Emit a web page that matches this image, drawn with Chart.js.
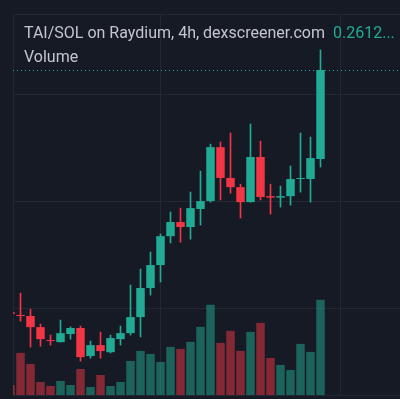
<!DOCTYPE html>
<html>
<head>
<meta charset="utf-8">
<script src="https://cdn.jsdelivr.net/npm/chart.js@4.4.1/dist/chart.umd.min.js"></script>
<style>
  html, body { margin: 0; padding: 0; background: #161a25; }
  #wrap { position: relative; width: 400px; height: 399px; }
  #legend { position: absolute; left: 24px; top: 21px; font-family: Roboto, sans-serif; font-size: 16px; line-height: 24px; color: #c3c6ce; white-space: nowrap; }
  #legend .val { position: absolute; left: 309px; top: 0; color: #22ab94; }
</style>
</head>
<body>
<div id="wrap">
  <canvas id="grafico" width="400" height="399"></canvas>
  <div id="legend">
    <div>TAI/SOL on Raydium, 4h, dexscreener.com<span class="val">0.2612...</span></div>
    <div>Volume</div>
  </div>
</div>
<script>
// candles (SOL per TAI), 4h each
const opens  = [0.1481, 0.1467, 0.1463, 0.1411, 0.1350, 0.1341, 0.1379, 0.1407, 0.1276, 0.1327, 0.1294, 0.1355, 0.1383, 0.1458, 0.1594, 0.1701,
                0.1836, 0.1902, 0.1879, 0.1963, 0.2000, 0.2252, 0.2108, 0.2065, 0.1995, 0.2206, 0.2023, 0.2016, 0.2023, 0.2103, 0.2103, 0.2196];
const highs  = [0.1500, 0.1570, 0.1495, 0.1425, 0.1374, 0.1444, 0.1412, 0.1416, 0.1346, 0.1388, 0.1374, 0.1416, 0.1608, 0.1682, 0.1762, 0.1846,
                0.1949, 0.1967, 0.2042, 0.2140, 0.2266, 0.2276, 0.2318, 0.2079, 0.2360, 0.2280, 0.2079, 0.2070, 0.2164, 0.2318, 0.2299, 0.2706];
const lows   = [0.1453, 0.1439, 0.1318, 0.1322, 0.1327, 0.1341, 0.1355, 0.1252, 0.1266, 0.1266, 0.1290, 0.1327, 0.1374, 0.1365, 0.1561, 0.1622,
                0.1804, 0.1808, 0.1822, 0.1888, 0.1995, 0.2005, 0.2037, 0.1921, 0.1995, 0.2005, 0.1939, 0.1972, 0.1981, 0.2042, 0.1995, 0.2159];
const closes = [0.1472, 0.1463, 0.1411, 0.1355, 0.1346, 0.1383, 0.1407, 0.1271, 0.1327, 0.1299, 0.1360, 0.1383, 0.1458, 0.1594, 0.1701, 0.1836,
                0.1902, 0.1879, 0.1967, 0.2000, 0.2252, 0.2108, 0.2065, 0.1995, 0.2206, 0.2019, 0.2016, 0.2023, 0.2103, 0.2108, 0.2201, 0.2612];
const volumes = [10, 42, 31, 13, 9, 14, 10, 26, 8, 20, 9, 13, 34, 44, 41, 33,
                 48, 46, 53, 68, 90, 52, 64, 44, 63, 72, 37, 30, 25, 51, 43, 95];
const priceGrid = [0.15, 0.20, 0.25];
const timeGrid = [15, 33];

const UP = '#22ab94';
const DOWN = '#f23645';
const GRID = '#232733';

const idx = closes.map((_, i) => i);
const candleColor = i => closes[i] >= opens[i] ? UP : DOWN;
const volColor = i => closes[i] >= opens[i] ? 'rgba(34,171,148,0.5)' : 'rgba(242,54,69,0.5)';

// pane frame + dotted last price line
const paneDeco = {
    id: 'paneDeco',
    beforeDatasetsDraw(chart) {
        const { ctx, chartArea: a, scales } = chart;
        ctx.save();
        ctx.strokeStyle = GRID;
        ctx.lineWidth = 1;
        ctx.beginPath();
        ctx.moveTo(a.left + 0.5, a.bottom);
        ctx.lineTo(a.left + 0.5, a.top + 0.5);
        ctx.lineTo(a.right, a.top + 0.5);
        ctx.moveTo(a.left, a.bottom + 0.5);
        ctx.lineTo(a.right, a.bottom + 0.5);
        ctx.stroke();

        const y = Math.round(scales.y.getPixelForValue(closes[closes.length - 1])) + 0.5;
        ctx.strokeStyle = UP;
        ctx.setLineDash([1, 3]);
        ctx.beginPath();
        ctx.moveTo(a.left, y);
        ctx.lineTo(a.right, y);
        ctx.stroke();
        ctx.restore();
    }
};

new Chart(document.getElementById('grafico'), {
    type: 'bar',
    data: {
        datasets: [
            {
                label: 'body',
                data: idx.map(i => ({ x: i, y: [opens[i], closes[i]] })),
                backgroundColor: idx.map(candleColor),
                barPercentage: 0.85,
                categoryPercentage: 1,
                minBarLength: 1,
                grouped: false,
                order: 0,
                yAxisID: 'y'
            },
            {
                label: 'wick',
                data: idx.map(i => ({ x: i, y: [lows[i], highs[i]] })),
                backgroundColor: idx.map(candleColor),
                barThickness: 1,
                grouped: false,
                order: 1,
                yAxisID: 'y'
            },
            {
                label: 'Volume',
                data: idx.map(i => ({ x: i, y: volumes[i] })),
                backgroundColor: idx.map(volColor),
                barPercentage: 0.85,
                categoryPercentage: 1,
                grouped: false,
                order: 2,
                yAxisID: 'yv'
            }
        ]
    },
    options: {
        responsive: false,
        animation: false,
        layout: { padding: { left: 13, top: 14, right: 0, bottom: 4 } },
        plugins: { legend: { display: false }, tooltip: { enabled: false } },
        scales: {
            x: {
                type: 'linear',
                offset: false,
                min: 0.25,
                max: 38.95,
                afterBuildTicks: s => { s.ticks = timeGrid.map(v => ({ value: v })); },
                ticks: { display: false },
                grid: { color: GRID, drawTicks: false, offset: false },
                border: { display: false }
            },
            y: {
                min: 0.1094,
                max: 0.2874,
                afterBuildTicks: s => { s.ticks = priceGrid.map(v => ({ value: v })); },
                ticks: { display: false },
                grid: { color: GRID, drawTicks: false },
                border: { display: false }
            },
            yv: {
                display: false,
                min: 0,
                max: Math.max(...volumes) * 4
            }
        }
    },
    plugins: [paneDeco]
});
</script>
</body>
</html>
